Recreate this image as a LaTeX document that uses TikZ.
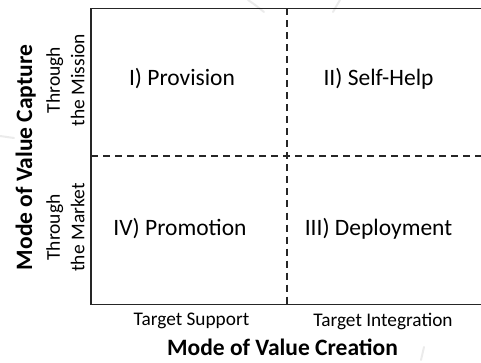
\documentclass[tikz,border=0pt]{standalone}
\usepackage{fontspec}
\setmainfont{Carlito}
\begin{document}
\begin{tikzpicture}[x=1pt,y=-1pt,
  frame/.style={line width=1.6pt,black!85},
  divider/.style={line width=1.5pt,black!85,dash pattern=on 7pt off 5pt},
  quad/.style={font=\fontsize{23.5}{28}\selectfont,inner sep=0pt,anchor=base},
  axlabel/.style={font=\fontsize{19.3}{23}\selectfont,inner sep=0pt,anchor=base},
  rowlabel/.style={font=\fontsize{19.5}{24.5}\selectfont,inner sep=0pt,align=center,rotate=90},
  title/.style={font=\bfseries\fontsize{23.5}{28}\selectfont,inner sep=0pt,anchor=base},
  faint/.style={line width=2pt,black!8,line cap=round}]
\clip (0,0) rectangle (481,363);
% faint background marks
\draw[faint] (0,136) -- (14,138);
\draw[faint] (248,0) .. controls (254,4) .. (264,12);
\draw[faint] (340,0) .. controls (337,5) .. (333,12);
\draw[faint] (424,347) -- (421,360);
% frame and dividers
\coordinate (tl) at (91,8.5);
\coordinate (br) at (486,304.5);
\coordinate (mt) at (287,8.5);
\coordinate (mb) at (287,304.5);
\coordinate (ml) at (91,156);
\coordinate (mr) at (486,156);
\draw[divider] (mt) -- (mb);
\draw[divider] (ml) -- (mr);
\draw[frame] (tl) rectangle (br);
% quadrant labels
\node[quad] (q1) at (182,85.5) {I) Provision};
\node[quad] (q2) at (378.5,85.5) {II) Self-Help};
\node[quad] (q4) at (180,235) {IV) Promotion};
\node[quad] (q3) at (378.5,235) {III) Deployment};
% axis labels
\node[axlabel] (ts) at (191.5,325) {Target Support};
\node[axlabel] (ti) at (383,326) {Target Integration};
\node[title] (vc) at (282.5,355) {Mode of Value Creation};
\node[title,rotate=90] (vcap) at (32,157.5) {Mode of Value Capture};
\node[rowlabel] (rm) at (65.5,80) {Through\\the Mission};
\node[rowlabel] (rk) at (65.5,227.5) {Through\\the Market};
\end{tikzpicture}
\end{document}
